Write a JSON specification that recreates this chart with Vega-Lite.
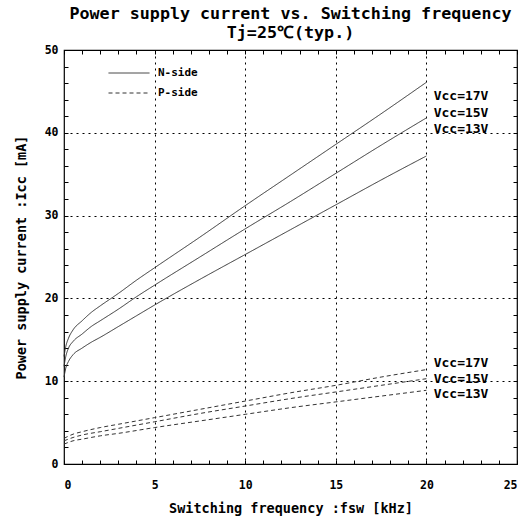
{
  "$schema": "https://vega.github.io/schema/vega-lite/v6.json",
  "width": 453,
  "height": 414,
  "autosize": {"type": "none"},
  "padding": {"left": 64, "top": 50, "right": 12, "bottom": 60},
  "background": "white",
  "config": {
    "view": {"stroke": "black", "strokeWidth": 1.2},
    "font": "DejaVu Sans Mono"
  },
  "title": {
    "text": ["Power supply current vs. Switching frequency", "Tj=25℃(typ.)"],
    "anchor": "middle",
    "font": "DejaVu Sans Mono",
    "fontSize": 16.7,
    "fontWeight": "bold",
    "color": "black",
    "lineHeight": 19,
    "offset": 2
  },
  "datasets": {
    "curves": [
      {"side": "N-side", "vcc": "17V", "f": 0, "I": 13.0},
      {"side": "N-side", "vcc": "17V", "f": 0.1, "I": 14.2},
      {"side": "N-side", "vcc": "17V", "f": 0.25, "I": 15.2},
      {"side": "N-side", "vcc": "17V", "f": 0.5, "I": 16.2},
      {"side": "N-side", "vcc": "17V", "f": 1, "I": 17.3},
      {"side": "N-side", "vcc": "17V", "f": 1.5, "I": 18.3},
      {"side": "N-side", "vcc": "17V", "f": 2, "I": 19.1},
      {"side": "N-side", "vcc": "17V", "f": 3, "I": 20.6},
      {"side": "N-side", "vcc": "17V", "f": 4, "I": 22.2},
      {"side": "N-side", "vcc": "17V", "f": 5, "I": 23.7},
      {"side": "N-side", "vcc": "17V", "f": 7.5, "I": 27.4},
      {"side": "N-side", "vcc": "17V", "f": 10, "I": 31.2},
      {"side": "N-side", "vcc": "17V", "f": 12.5, "I": 34.9},
      {"side": "N-side", "vcc": "17V", "f": 15, "I": 38.6},
      {"side": "N-side", "vcc": "17V", "f": 17.5, "I": 42.3},
      {"side": "N-side", "vcc": "17V", "f": 20, "I": 46.1},
      {"side": "N-side", "vcc": "15V", "f": 0, "I": 11.8},
      {"side": "N-side", "vcc": "15V", "f": 0.1, "I": 13.0},
      {"side": "N-side", "vcc": "15V", "f": 0.25, "I": 14.0},
      {"side": "N-side", "vcc": "15V", "f": 0.5, "I": 14.8},
      {"side": "N-side", "vcc": "15V", "f": 1, "I": 15.7},
      {"side": "N-side", "vcc": "15V", "f": 1.5, "I": 16.6},
      {"side": "N-side", "vcc": "15V", "f": 2, "I": 17.3},
      {"side": "N-side", "vcc": "15V", "f": 3, "I": 18.7},
      {"side": "N-side", "vcc": "15V", "f": 4, "I": 20.2},
      {"side": "N-side", "vcc": "15V", "f": 5, "I": 21.6},
      {"side": "N-side", "vcc": "15V", "f": 7.5, "I": 25.0},
      {"side": "N-side", "vcc": "15V", "f": 10, "I": 28.4},
      {"side": "N-side", "vcc": "15V", "f": 12.5, "I": 31.7},
      {"side": "N-side", "vcc": "15V", "f": 15, "I": 35.1},
      {"side": "N-side", "vcc": "15V", "f": 17.5, "I": 38.5},
      {"side": "N-side", "vcc": "15V", "f": 20, "I": 41.8},
      {"side": "N-side", "vcc": "13V", "f": 0, "I": 10.5},
      {"side": "N-side", "vcc": "13V", "f": 0.1, "I": 11.6},
      {"side": "N-side", "vcc": "13V", "f": 0.25, "I": 12.4},
      {"side": "N-side", "vcc": "13V", "f": 0.5, "I": 13.2},
      {"side": "N-side", "vcc": "13V", "f": 1, "I": 14.0},
      {"side": "N-side", "vcc": "13V", "f": 1.5, "I": 14.7},
      {"side": "N-side", "vcc": "13V", "f": 2, "I": 15.3},
      {"side": "N-side", "vcc": "13V", "f": 3, "I": 16.6},
      {"side": "N-side", "vcc": "13V", "f": 4, "I": 17.9},
      {"side": "N-side", "vcc": "13V", "f": 5, "I": 19.2},
      {"side": "N-side", "vcc": "13V", "f": 7.5, "I": 22.3},
      {"side": "N-side", "vcc": "13V", "f": 10, "I": 25.3},
      {"side": "N-side", "vcc": "13V", "f": 12.5, "I": 28.3},
      {"side": "N-side", "vcc": "13V", "f": 15, "I": 31.3},
      {"side": "N-side", "vcc": "13V", "f": 17.5, "I": 34.3},
      {"side": "N-side", "vcc": "13V", "f": 20, "I": 37.2},
      {"side": "P-side", "vcc": "17V", "f": 0, "I": 3.1},
      {"side": "P-side", "vcc": "17V", "f": 0.5, "I": 3.6},
      {"side": "P-side", "vcc": "17V", "f": 1, "I": 3.9},
      {"side": "P-side", "vcc": "17V", "f": 2, "I": 4.4},
      {"side": "P-side", "vcc": "17V", "f": 3, "I": 4.8},
      {"side": "P-side", "vcc": "17V", "f": 5, "I": 5.6},
      {"side": "P-side", "vcc": "17V", "f": 7.5, "I": 6.6},
      {"side": "P-side", "vcc": "17V", "f": 10, "I": 7.6},
      {"side": "P-side", "vcc": "17V", "f": 12.5, "I": 8.6},
      {"side": "P-side", "vcc": "17V", "f": 15, "I": 9.5},
      {"side": "P-side", "vcc": "17V", "f": 17.5, "I": 10.5},
      {"side": "P-side", "vcc": "17V", "f": 20, "I": 11.4},
      {"side": "P-side", "vcc": "15V", "f": 0, "I": 2.8},
      {"side": "P-side", "vcc": "15V", "f": 0.5, "I": 3.2},
      {"side": "P-side", "vcc": "15V", "f": 1, "I": 3.5},
      {"side": "P-side", "vcc": "15V", "f": 2, "I": 3.9},
      {"side": "P-side", "vcc": "15V", "f": 3, "I": 4.3},
      {"side": "P-side", "vcc": "15V", "f": 5, "I": 5.1},
      {"side": "P-side", "vcc": "15V", "f": 7.5, "I": 6.1},
      {"side": "P-side", "vcc": "15V", "f": 10, "I": 7.0},
      {"side": "P-side", "vcc": "15V", "f": 12.5, "I": 7.9},
      {"side": "P-side", "vcc": "15V", "f": 15, "I": 8.7},
      {"side": "P-side", "vcc": "15V", "f": 17.5, "I": 9.5},
      {"side": "P-side", "vcc": "15V", "f": 20, "I": 10.3},
      {"side": "P-side", "vcc": "13V", "f": 0, "I": 2.4},
      {"side": "P-side", "vcc": "13V", "f": 0.5, "I": 2.8},
      {"side": "P-side", "vcc": "13V", "f": 1, "I": 3.0},
      {"side": "P-side", "vcc": "13V", "f": 2, "I": 3.4},
      {"side": "P-side", "vcc": "13V", "f": 3, "I": 3.7},
      {"side": "P-side", "vcc": "13V", "f": 5, "I": 4.4},
      {"side": "P-side", "vcc": "13V", "f": 7.5, "I": 5.2},
      {"side": "P-side", "vcc": "13V", "f": 10, "I": 6.0},
      {"side": "P-side", "vcc": "13V", "f": 12.5, "I": 6.8},
      {"side": "P-side", "vcc": "13V", "f": 15, "I": 7.5},
      {"side": "P-side", "vcc": "13V", "f": 17.5, "I": 8.2},
      {"side": "P-side", "vcc": "13V", "f": 20, "I": 8.9}
    ],
    "labels": [
      {"f": 20.4, "I": 44.4, "label": "Vcc=17V"},
      {"f": 20.4, "I": 42.4, "label": "Vcc=15V"},
      {"f": 20.4, "I": 40.4, "label": "Vcc=13V"},
      {"f": 20.4, "I": 12.2, "label": "Vcc=17V"},
      {"f": 20.4, "I": 10.3, "label": "Vcc=15V"},
      {"f": 20.4, "I": 8.5, "label": "Vcc=13V"}
    ]
  },
  "layer": [
    {
      "data": {"name": "curves"},
      "mark": {"type": "line", "interpolate": "monotone", "color": "#333333", "strokeWidth": 1},
      "encoding": {
        "x": {
          "field": "f", "type": "quantitative",
          "scale": {"domain": [0, 25], "nice": false},
          "axis": {
            "orient": "bottom",
            "values": [0,1,2,3,4,5,6,7,8,9,10,11,12,13,14,15,16,17,18,19,20,21,22,23,24,25],
            "labelExpr": "datum.value % 5 === 0 ? datum.label : ''",
            "labelFont": "DejaVu Sans Mono", "labelFontSize": 11.5, "labelFontWeight": "bold", "labelColor": "black",
            "labelPadding": 19,
            "tickSize": -4, "tickColor": "black",
            "domain": false,
            "grid": true, "gridColor": "black", "gridDash": [2, 4], "gridWidth": 1,
            "gridOpacity": {"condition": {"test": "datum.value % 5 === 0 && datum.value > 0 && datum.value < 25", "value": 1}, "value": 0},
            "title": "Switching frequency :fsw [kHz]",
            "titleFont": "DejaVu Sans Mono", "titleFontSize": 13.5, "titleFontWeight": "bold", "titleColor": "black",
            "titlePadding": 11
          }
        },
        "y": {
          "field": "I", "type": "quantitative",
          "scale": {"domain": [0, 50], "nice": false},
          "axis": {
            "orient": "left",
            "values": [0,2,4,6,8,10,12,14,16,18,20,22,24,26,28,30,32,34,36,38,40,42,44,46,48,50],
            "labelExpr": "datum.value % 10 === 0 ? datum.label : ''",
            "labelFont": "DejaVu Sans Mono", "labelFontSize": 11.5, "labelFontWeight": "bold", "labelColor": "black",
            "labelPadding": 10,
            "tickSize": -4, "tickColor": "black",
            "domain": false,
            "grid": true, "gridColor": "black", "gridDash": [2, 4], "gridWidth": 1,
            "gridOpacity": {"condition": {"test": "datum.value % 10 === 0 && datum.value > 0 && datum.value < 50", "value": 1}, "value": 0},
            "title": "Power supply current :Icc [mA]",
            "titleFont": "DejaVu Sans Mono", "titleFontSize": 13.5, "titleFontWeight": "bold", "titleColor": "black",
            "titlePadding": 16
          }
        },
        "detail": {"field": "vcc"},
        "strokeDash": {
          "field": "side", "type": "nominal",
          "scale": {"domain": ["N-side", "P-side"], "range": [[1, 0], [4, 3]]},
          "legend": {
            "orient": "none", "legendX": 54, "legendY": 12,
            "title": null,
            "symbolType": "M-2,0L2,0", "symbolSize": 420, "symbolStrokeColor": "#333333", "symbolStrokeWidth": 1,
            "labelFont": "DejaVu Sans Mono", "labelFontSize": 11, "labelFontWeight": "bold", "labelColor": "black",
            "labelOffset": 18, "rowPadding": 4
          }
        }
      }
    },
    {
      "data": {"name": "labels"},
      "mark": {"type": "text", "align": "left", "baseline": "middle", "font": "DejaVu Sans Mono", "fontSize": 13, "fontWeight": "bold", "color": "black"},
      "encoding": {
        "x": {
          "field": "f", "type": "quantitative",
          "axis": {
            "orient": "top",
            "values": [0,1,2,3,4,5,6,7,8,9,10,11,12,13,14,15,16,17,18,19,20,21,22,23,24,25],
            "labels": false, "domain": false, "grid": false, "title": null,
            "tickSize": -4, "tickColor": "black"
          }
        },
        "y": {
          "field": "I", "type": "quantitative",
          "axis": {
            "orient": "right",
            "values": [0,2,4,6,8,10,12,14,16,18,20,22,24,26,28,30,32,34,36,38,40,42,44,46,48,50],
            "labels": false, "domain": false, "grid": false, "title": null,
            "tickSize": -4, "tickColor": "black"
          }
        },
        "text": {"field": "label"}
      }
    }
  ]
}
